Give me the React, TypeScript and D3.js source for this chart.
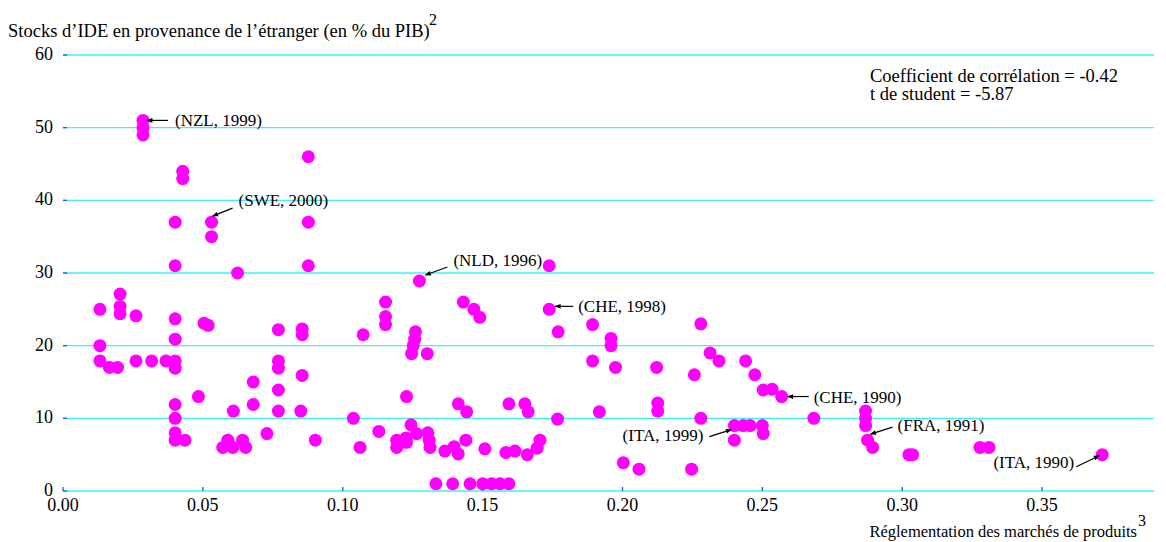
import React, { useEffect } from "react"
import { scaleLinear, range, format } from "d3"

// Réglementation des marchés de produits (x) et stocks d'IDE (y)
const xs = [
  0.0286, 0.0286, 0.0286, 0.0877, 0.0428, 0.0428, 0.0401, 0.0531, 0.0531, 0.0877,
  0.0401, 0.0624, 0.0877, 0.0204, 0.0132, 0.0204, 0.0204, 0.0261, 0.0401, 0.0504,
  0.0519, 0.077, 0.0855, 0.0855, 0.0401, 0.0132, 0.0132, 0.0166, 0.0195, 0.0261,
  0.0317, 0.0368, 0.0401, 0.0401, 0.077, 0.077, 0.0855, 0.068, 0.077, 0.0484,
  0.0401, 0.0609, 0.068, 0.077, 0.085, 0.0401, 0.1038, 0.0401, 0.0401, 0.0436,
  0.0589, 0.0571, 0.0607, 0.0642, 0.0653, 0.0729, 0.0902, 0.1062, 0.1274, 0.1738,
  0.1738, 0.1153, 0.1153, 0.1153, 0.1073, 0.1431, 0.1469, 0.149, 0.177, 0.126,
  0.1257, 0.1252, 0.1246, 0.1302, 0.1893, 0.1959, 0.1959, 0.1893, 0.1975, 0.1228,
  0.1413, 0.1443, 0.1594, 0.1651, 0.1663, 0.1917, 0.1768, 0.1129, 0.1244, 0.1264,
  0.1193, 0.1226, 0.1228, 0.1193, 0.1304, 0.1309, 0.1312, 0.1365, 0.1398, 0.1413,
  0.144, 0.1508, 0.1583, 0.1616, 0.166, 0.1695, 0.1705, 0.2003, 0.1333, 0.1393,
  0.1455, 0.15, 0.1532, 0.1562, 0.1594, 0.228, 0.2313, 0.2345, 0.2122, 0.2257,
  0.244, 0.2473, 0.2503, 0.2535, 0.2569, 0.2126, 0.2126, 0.228, 0.2684, 0.2869,
  0.2869, 0.2869, 0.2876, 0.2894, 0.24, 0.2432, 0.2456, 0.24, 0.25, 0.2503,
  0.2059, 0.2247, 0.3024, 0.3037, 0.3278, 0.331, 0.3715,
]
const ys = [
  51, 50, 49, 46, 44, 43, 37, 37, 35, 37,
  31, 30, 31, 27.1, 25, 25.4, 24.4, 24.1, 23.7, 23.1,
  22.8, 22.2, 22.3, 21.5, 20.9, 20, 17.9, 17, 17, 17.9,
  17.9, 17.9, 17.9, 16.9, 17.9, 16.9, 15.9, 15, 13.9, 13,
  11.9, 11, 11.9, 11, 11, 10, 10, 8, 7, 7,
  7, 6, 6, 7, 6, 7.9, 7, 6, 28.9, 31,
  25, 26, 24, 22.9, 21.5, 26, 25, 23.9, 21.9, 21.9,
  20.9, 20, 18.9, 18.9, 22.9, 21, 20, 17.9, 17, 13,
  12, 10.9, 12, 12, 10.9, 10.9, 9.9, 8.2, 9.1, 7.9,
  7, 7.3, 6.7, 6, 8, 7, 6, 5.5, 6.1, 5.1,
  7, 5.8, 5.3, 5.5, 5, 5.9, 7, 3.9, 1, 1,
  1, 1, 1, 1, 1, 23, 19, 17.9, 17, 16,
  17.9, 16, 13.9, 14, 13, 12.1, 11, 10, 10, 11,
  10, 9, 7, 6, 9, 9, 9, 7, 9, 7.9,
  3, 3, 5, 5, 6, 6, 5,
]

const xTicks = [0, 0.05, 0.1, 0.15, 0.2, 0.25, 0.3, 0.35]
const yTicks = range(0, 61, 10)

// étiquettes : point visé + décalages en pixels (flèche et texte)
const notes = [
  { label: "(NZL, 1999)", x: 0.0286, y: 51, tip: [4, 0], tail: [25, 0], txt: [32, 6], anchor: "start" },
  { label: "(SWE, 2000)", x: 0.0531, y: 37, tip: [1, -6], tail: [21, -14], txt: [27, -16], anchor: "start" },
  { label: "(NLD, 1996)", x: 0.1274, y: 28.9, tip: [6, -6], tail: [28, -14], txt: [34, -15], anchor: "start" },
  { label: "(CHE, 1998)", x: 0.1738, y: 25, tip: [6, -3], tail: [24, -3], txt: [29, 3], anchor: "start" },
  { label: "(CHE, 1990)", x: 0.2569, y: 13, tip: [6, 0], tail: [27, 0], txt: [32, 6], anchor: "start" },
  { label: "(ITA, 1999)", x: 0.24, y: 9, tip: [-3, 4], tail: [-25, 11], txt: [-31, 15], anchor: "end" },
  { label: "(FRA, 1991)", x: 0.2876, y: 7, tip: [3, -6], tail: [25, -13], txt: [30, -9], anchor: "start" },
  { label: "(ITA, 1990)", x: 0.3715, y: 5, tip: [-3, 1], tail: [-26, 12], txt: [-28, 13], anchor: "end" },
]

const W = 1166
const H = 542
const font = "'Liberation Serif', 'Times New Roman', serif"

export default function App() {
  useEffect(() => {
    document.body.style.margin = "0"
  }, [])

  const x = scaleLinear().domain([0, 0.39]).range([63, 1154])
  const y = scaleLinear().domain([0, 60]).range([491, 55])
  const fmt = format(".2f")

  return (
    <svg width={W} height={H} style={{ display: "block", background: "#fff" }} fontFamily={font}>
      <defs>
        <marker id="head" viewBox="0 0 10 10" refX="9" refY="5" markerWidth="7" markerHeight="6" orient="auto" markerUnits="userSpaceOnUse">
          <path d="M0,1 L10,5 L0,9 z" fill="#000" />
        </marker>
      </defs>

      {/* grille */}
      {yTicks.map((t) => (
        <g key={"gy" + t}>
          <line x1={x(0)} x2={x(0.39)} y1={y(t)} y2={y(t)} stroke="#3ef0f8" strokeWidth={1.3} />
          <line x1={x(0)} x2={x(0) + 4} y1={y(t)} y2={y(t)} stroke="#2a4cff" strokeWidth={1.3} />
          <text x={53} y={y(t) + 5} textAnchor="end" fontSize={18} fill="#000">{t}</text>
        </g>
      ))}

      {xTicks.map((t) => (
        <g key={"gx" + t}>
          <line x1={x(t)} x2={x(t)} y1={y(0) - 4} y2={y(0)} stroke="#2a4cff" strokeWidth={1.3} />
          <text x={x(t)} y={y(0) + 20} textAnchor="middle" fontSize={18} fill="#000">{fmt(t)}</text>
        </g>
      ))}

      {/* points */}
      {xs.map((v, i) => (
        <circle key={i} cx={x(v)} cy={y(ys[i])} r={6.5} fill="#ff00ff" />
      ))}

      {/* annotations */}
      {notes.map((n) => {
        const px = x(n.x)
        const py = y(n.y)
        return (
          <g key={n.label}>
            <line
              x1={px + n.tail[0]} y1={py + n.tail[1]}
              x2={px + n.tip[0]} y2={py + n.tip[1]}
              stroke="#000" strokeWidth={1.2} markerEnd="url(#head)"
            />
            <text x={px + n.txt[0]} y={py + n.txt[1]} textAnchor={n.anchor} fontSize={17} fill="#000">{n.label}</text>
          </g>
        )
      })}

      {/* titres */}
      <text x={8} y={37} fontSize={18.5} fill="#000">Stocks d’IDE en provenance de l’étranger (en % du PIB)</text>
      <text x={429} y={25} fontSize={16} fill="#000">2</text>

      <text x={1137} y={537} textAnchor="end" fontSize={16.5} fill="#000">Réglementation des marchés de produits</text>
      <text x={1138} y={526} fontSize={16} fill="#000">3</text>

      <text x={870} y={82} fontSize={18.5} fill="#000">Coefficient de corrélation = -0.42</text>
      <text x={870} y={100} fontSize={18.5} fill="#000">t de student = -5.87</text>
    </svg>
  )
}
